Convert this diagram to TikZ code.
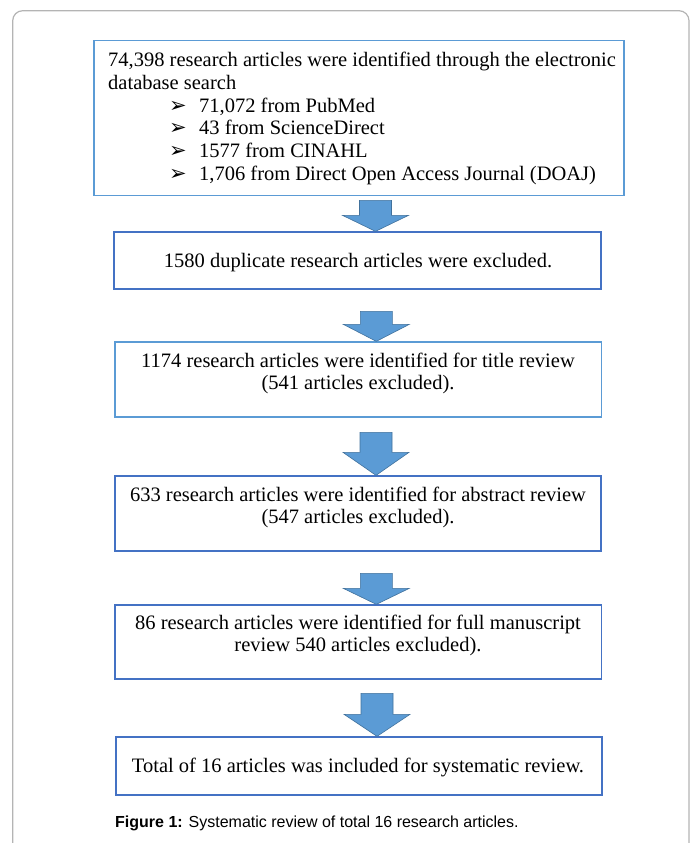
\documentclass[tikz,border=0pt]{standalone}
\usepackage{fontspec}
\setmainfont{Liberation Serif}
\newfontfamily\capfont{Liberation Sans}
\newfontfamily\dingfont{DejaVu Sans}
\definecolor{lightedge}{HTML}{5B9BD5}
\definecolor{darkedge}{HTML}{4472C4}
\definecolor{arrowfill}{HTML}{5B9BD5}
\definecolor{arrowedge}{HTML}{41719C}
\definecolor{framegray}{HTML}{B4B4B4}
\newcommand{\bul}{{\dingfont\fontsize{21}{21}\selectfont ➢}}
\newcommand{\srcitem}[1]{\hspace*{61pt}\makebox[30pt][l]{\bul}#1}

\begin{document}
\begin{tikzpicture}[x=1pt, y=-1pt,
    stagebox/.style={draw=#1, line width=1.3pt, inner sep=0pt},
    stagetext/.style={font=\fontsize{20.5}{22.8}\selectfont, align=center, inner sep=0pt},
    blockarrow/.style={fill=arrowfill, draw=arrowedge, line width=0.6pt}]
  \useasboundingbox (0,0) rectangle (694,843);
  % outer frame, open at the bottom
  \draw[framegray, line width=1.2pt, rounded corners=10pt]
    (12.7,843) -- (12.7,10.7) -- (689,10.7) -- (689,843);

  % boxes
  \node[stagebox=lightedge, minimum width=530, minimum height=155] (b1) at (359,118.3) {};
  \node[stagebox=darkedge, minimum width=487, minimum height=57] (b2) at (357.5,260.5) {};
  \node[stagebox=lightedge, minimum width=486.5, minimum height=75] (b3) at (358.3,379.5) {};
  \node[stagebox=darkedge, minimum width=486, minimum height=75] (b4) at (358,513.5) {};
  \node[stagebox=darkedge, minimum width=486.5, minimum height=74] (b5) at (358.3,642) {};
  \node[stagebox=darkedge, minimum width=486, minimum height=58] (b6) at (359,766) {};

  % texts
  \node[stagetext, anchor=west, align=left] (t1) at (108,118.5)
    {74,398 research articles were identified through the electronic\\
     database search\\
     \srcitem{71,072 from PubMed}\\
     \srcitem{43 from ScienceDirect}\\
     \srcitem{1577 from CINAHL}\\
     \srcitem{1,706 from Direct Open Access Journal (DOAJ)}};
  \node[stagetext] (t2) at (358,263) {1580 duplicate research articles were excluded.};
  \node[stagetext] (t3) at (358,373.5) {1174 research articles were identified for title review\\ (541 articles excluded).};
  \node[stagetext] (t4) at (358,507.5) {633 research articles were identified for abstract review\\ (547 articles excluded).};
  \node[stagetext] (t5) at (358,635.5) {86 research articles were identified for full manuscript\\ review 540 articles excluded).};
  \node[stagetext] (t6) at (358,767) {Total of 16 articles was included for systematic review.};

  % block arrows between the boxes
  \foreach \nxt/\len/\hd in {b2/31/16, b3/30/17, b4/43/23, b5/31/16, b6/43/22}
    \draw[blockarrow] ([xshift=18pt]\nxt.north) -- ++(-33,-\hd) -- ++(17,0) -- ++(0,\hd-\len)
      -- ++(32,0) -- ++(0,\len-\hd) -- ++(17,0) -- cycle;

  % caption
  \node[anchor=west, inner sep=0pt, font=\capfont\fontsize{16}{19}\selectfont] (cap) at (115,823)
    {\textbf{Figure 1:} Systematic review of total 16 research articles.};
\end{tikzpicture}
\end{document}
